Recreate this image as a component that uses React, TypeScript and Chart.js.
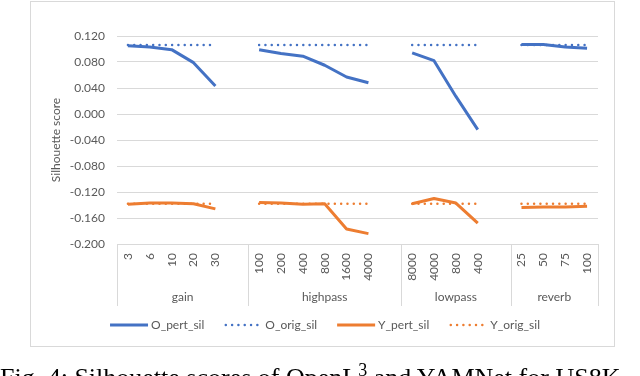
import React, { useEffect, useRef } from "react";
import { Chart, registerables } from "chart.js";

Chart.register(...registerables);

const groupNames = ["gain", "highpass", "lowpass", "reverb"];
const gainLabels = ["3", "6", "10", "20", "30"];
const highpassLabels = ["100", "200", "400", "800", "1600", "4000"];
const lowpassLabels = ["8000", "4000", "800", "400"];
const reverbLabels = ["25", "50", "75", "100"];

const oPertGain = [0.105, 0.103, 0.099, 0.079, 0.043];
const oPertHighpass = [0.099, 0.093, 0.089, 0.075, 0.057, 0.048];
const oPertLowpass = [0.094, 0.082, 0.027, -0.024];
const oPertReverb = [0.107, 0.107, 0.103, 0.101];

const oOrig = 0.106;

const yPertGain = [-0.139, -0.137, -0.137, -0.138, -0.146];
const yPertHighpass = [-0.136, -0.137, -0.139, -0.138, -0.177, -0.184];
const yPertLowpass = [-0.138, -0.13, -0.137, -0.168];
const yPertReverb = [-0.144, -0.143, -0.143, -0.142];

const yOrig = -0.138;

const groupLabels = [gainLabels, highpassLabels, lowpassLabels, reverbLabels];

function flatten(groups: (string | number | null)[][]): (any)[] {
  const out: any[] = [];
  groups.forEach((g, i) => {
    g.forEach((v) => out.push(v));
    if (i < groups.length - 1) out.push(null);
  });
  return out;
}

const labels = flatten(groupLabels).map((l) => (l === null ? "" : l));
const oPert = flatten([oPertGain, oPertHighpass, oPertLowpass, oPertReverb]);
const yPert = flatten([yPertGain, yPertHighpass, yPertLowpass, yPertReverb]);
const oOrigData = flatten(groupLabels.map((g) => g.map(() => oOrig)));
const yOrigData = flatten(groupLabels.map((g) => g.map(() => yOrig)));

const BLUE = "#4472C4";
const ORANGE = "#ED7D31";
const GRID = "#d9d9d9";
const TEXT = "#595959";
const FONT = "Lato";
const DOT = [0.01, 6.3];

const decorPlugin = {
  id: "decor",
  afterDraw(chart: any) {
    const { ctx, chartArea } = chart;
    const x = chart.scales.x;
    const half = (x.getPixelForValue(1) - x.getPixelForValue(0)) / 2;
    ctx.save();
    // outer border
    ctx.strokeStyle = GRID;
    ctx.lineWidth = 1;
    ctx.strokeRect(30.5, 1.5, 584, 345);
    // group separators and labels
    const yTop = chartArea.bottom;
    const yBot = x.bottom;
    let idx = 0;
    const bounds: number[] = [];
    groupLabels.forEach((g, i) => {
      const start = idx;
      const size = g.length + (i < groupLabels.length - 1 ? 1 : 0);
      const left = x.getPixelForValue(start) - half;
      const right = x.getPixelForValue(start + size - 1) + half;
      bounds.push(left);
      if (i === groupLabels.length - 1) bounds.push(right);
      ctx.fillStyle = TEXT;
      ctx.font = `12px ${FONT}`;
      ctx.textAlign = "center";
      ctx.textBaseline = "middle";
      ctx.fillText(groupNames[i], (left + right) / 2, 297);
      idx += size;
    });
    ctx.strokeStyle = GRID;
    ctx.lineWidth = 1;
    bounds.forEach((b) => {
      const px = Math.round(b) + 0.5;
      ctx.beginPath();
      ctx.moveTo(px, yTop);
      ctx.lineTo(px, yBot);
      ctx.stroke();
    });
    // legend
    ctx.font = `12px ${FONT}`;
    const sample = 38;
    const gapText = 3;
    const gapItem = 20;
    const items = chart.data.datasets.map((d: any) => ({
      label: d.label,
      color: d.borderColor,
      dash: d.borderDash || [],
      w: sample + gapText + ctx.measureText(d.label).width,
    }));
    const total = items.reduce((s: number, it: any) => s + it.w, 0) + gapItem * (items.length - 1);
    let cx = 325 - total / 2;
    const ly = 325;
    items.forEach((it: any) => {
      ctx.beginPath();
      ctx.strokeStyle = it.color;
      if (it.dash.length) {
        ctx.setLineDash(DOT);
        ctx.lineCap = "round";
        ctx.lineWidth = 2.5;
        ctx.moveTo(cx + 1.5, ly);
      } else {
        ctx.setLineDash([]);
        ctx.lineCap = "butt";
        ctx.lineWidth = 3;
        ctx.moveTo(cx, ly);
      }
      ctx.lineTo(cx + sample, ly);
      ctx.stroke();
      ctx.setLineDash([]);
      ctx.fillStyle = TEXT;
      ctx.textAlign = "left";
      ctx.textBaseline = "middle";
      ctx.fillText(it.label, cx + sample + gapText, ly);
      cx += it.w + gapItem;
    });
    ctx.restore();
  },
};

export default function App() {
  const ref = useRef<HTMLCanvasElement>(null);
  useEffect(() => {
    const canvas = ref.current;
    if (!canvas) return;
    const chart = new Chart(canvas, {
      type: "line",
      data: {
        labels,
        datasets: [
          {
            label: "O_pert_sil",
            data: oPert,
            borderColor: BLUE,
            backgroundColor: BLUE,
            borderWidth: 3,
            pointRadius: 0,
            tension: 0,
            spanGaps: false,
            borderJoinStyle: "round",
          },
          {
            label: "O_orig_sil",
            data: oOrigData,
            borderColor: BLUE,
            backgroundColor: BLUE,
            borderWidth: 2.5,
            borderDash: DOT,
            borderCapStyle: "round",
            pointRadius: 0,
            tension: 0,
            spanGaps: false,
          },
          {
            label: "Y_pert_sil",
            data: yPert,
            borderColor: ORANGE,
            backgroundColor: ORANGE,
            borderWidth: 3,
            pointRadius: 0,
            tension: 0,
            spanGaps: false,
            borderJoinStyle: "round",
          },
          {
            label: "Y_orig_sil",
            data: yOrigData,
            borderColor: ORANGE,
            backgroundColor: ORANGE,
            borderWidth: 2.5,
            borderDash: DOT,
            borderCapStyle: "round",
            pointRadius: 0,
            tension: 0,
            spanGaps: false,
          },
        ],
      },
      options: {
        animation: false,
        responsive: false,
        maintainAspectRatio: false,
        layout: { padding: { left: 30, right: 42, top: 36, bottom: 70 } },
        plugins: {
          legend: { display: false },
          tooltip: { enabled: false },
          title: { display: false },
        },
        scales: {
          x: {
            type: "category",
            offset: true,
            grid: { display: false, drawTicks: false },
            border: { display: true, color: GRID, width: 1 },
            ticks: {
              autoSkip: false,
              minRotation: 90,
              maxRotation: 90,
              padding: 9,
              color: TEXT,
              font: { family: FONT, size: 12 },
            },
            afterFit: (s: any) => {
              s.height = 62;
            },
          },
          y: {
            min: -0.2,
            max: 0.12,
            ticks: {
              stepSize: 0.04,
              padding: 12,
              color: TEXT,
              font: { family: FONT, size: 12 },
              callback: (v: any) => {
                const n = Number(v);
                return Math.abs(n) < 1e-9 ? "0.000" : n.toFixed(3);
              },
            },
            grid: { color: GRID, lineWidth: 1, drawTicks: false },
            border: { display: false },
            title: {
              display: true,
              text: "Silhouette score",
              color: TEXT,
              font: { family: FONT, size: 12 },
              padding: { top: 19, bottom: 0 },
            },
            afterFit: (s: any) => {
              s.width = 87;
            },
          },
        },
      },
      plugins: [decorPlugin],
    });
    return () => chart.destroy();
  }, []);
  return (
    <div style={{ position: "fixed", left: 0, top: 0, width: 640, height: 376, overflow: "hidden", background: "#fff" }}>
      <canvas ref={ref} width={640} height={376} style={{ position: "absolute", left: 0, top: 0, width: 640, height: 376 }} />
      <div
        style={{
          position: "absolute",
          left: 0,
          top: 365,
          whiteSpace: "nowrap",
          fontFamily: "'Liberation Serif', 'Times New Roman', serif",
          fontSize: 26,
          lineHeight: "26px",
          color: "#000",
        }}
      >
        Fig. 4: Silhouette scores of OpenL<sup style={{ fontSize: 18, lineHeight: 0, verticalAlign: "10px" }}>3</sup> and YAMNet for US8K
      </div>
    </div>
  );
}
